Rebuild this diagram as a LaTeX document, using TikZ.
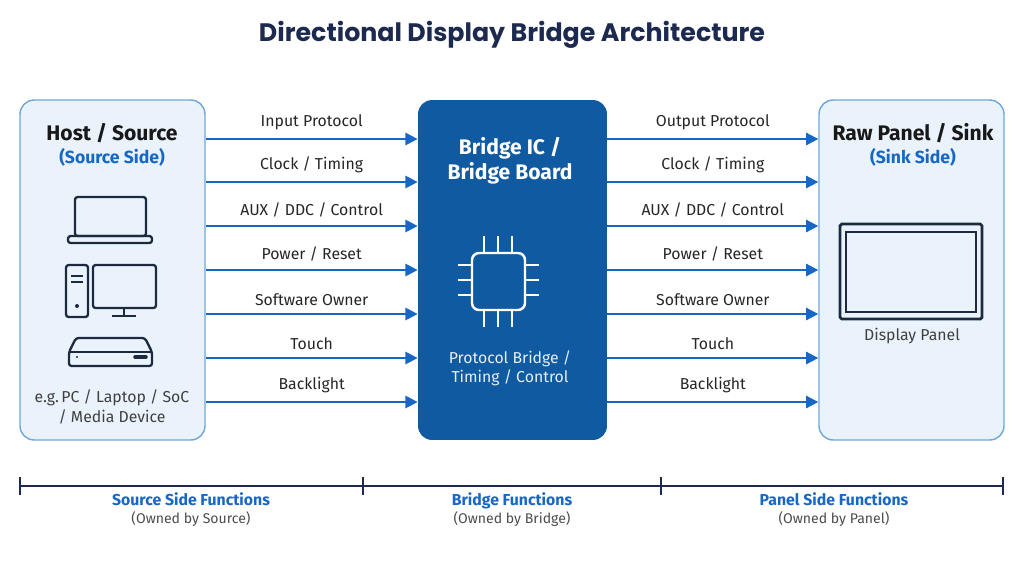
\documentclass[tikz,border=0pt]{standalone}
\usepackage{fontspec}
\setmainfont{Fira Sans}
\newfontfamily\titlefont{Poppins}
\usetikzlibrary{positioning,arrows.meta}
\definecolor{navy}{HTML}{1B2A4E}
\definecolor{linkblue}{HTML}{1767C4}
\definecolor{boxfill}{HTML}{EAF3FC}
\definecolor{boxline}{HTML}{6FA6DA}
\definecolor{chipblue}{HTML}{0F5AA0}
\definecolor{icon}{HTML}{1B2A3E}
\tikzset{
  side/.style={draw=boxline, fill=boxfill, rounded corners=8pt, line width=0.8pt,
    minimum width=3.7cm, minimum height=6.8cm},
  core/.style={fill=chipblue, rounded corners=8pt, minimum width=3.78cm, minimum height=6.8cm},
  sig/.style={draw=linkblue, line width=1.2pt, -{Triangle[length=7pt,width=7pt]}},
  lbl/.style={font=\small, text=black!85, above, yshift=1pt},
  ico/.style={draw=icon, line width=1.3pt, rounded corners=1.5pt},
  chip/.style={draw=white, line width=1.4pt}
}
\begin{document}
\begin{tikzpicture}[x=0.02cm,y=-0.02cm]
  \useasboundingbox (0,0) rectangle (1024,576);
  \node[font=\titlefont\Large\bfseries, text=navy] (title) at (512,35) {Directional Display Bridge Architecture};

  \node[side] (src) at (112.5,270) {};
  \node[core] (brg) at (512.5,270) {};
  \node[side] (snk) at (911.5,270) {};

  \node[font=\large\bfseries, text=black!90] (srct) at (112,133) {Host / Source};
  \node[font=\normalsize\bfseries, text=linkblue] (srcs) at (112,157) {(Source Side)};
  \node[font=\large\bfseries, text=white, align=center] (brgt) at (510,161) {Bridge IC /\\Bridge Board};
  \node[font=\large\bfseries, text=black!90] (snkt) at (913,133) {Raw Panel / Sink};
  \node[font=\normalsize\bfseries, text=linkblue] (snks) at (913,157) {(Sink Side)};

  % signal lines
  \foreach \y/\t/\u in {139/{Input Protocol}/{Output Protocol}, 182/{Clock / Timing}/{Clock / Timing},
      226/{AUX / DDC / Control}/{AUX / DDC / Control}, 270/{Power / Reset}/{Power / Reset},
      314/{Software Owner}/{Software Owner}, 358/{Touch}/{Touch}, 402/{Backlight}/{Backlight}} {
    \draw[sig] (src.east |- 0,\y) -- node[lbl]{\t} (brg.west |- 0,\y);
    \draw[sig] (brg.east |- 0,\y) -- node[lbl]{\u} (snk.west |- 0,\y);
  }

  % host icons
  \draw[ico] (75,236) rectangle (146,197);
  \draw[ico] (68,236) rectangle (152,243);
  \draw[ico] (66,265) rectangle (88,317);
  \draw[icon, line width=1.3pt] (71,276) -- (83,276) (71,282) -- (83,282);
  \fill[icon] (77,306) circle (2);
  \draw[ico] (93,265) rectangle (156,308);
  \draw[icon, line width=1.3pt] (124,308) -- (124,316) (112,316) -- (136,316);
  \draw[ico] (69,366) -- (69,352) -- (76,338) -- (145,338) -- (152,352) -- (152,366) -- cycle;
  \draw[icon, line width=1.3pt] (69,352) -- (152,352);
  \fill[icon] (77,357) circle (1.2);
  \draw[icon, line width=2pt, line cap=round] (135,357) -- (146,357);
  \node[font=\small, text=black!75, align=center] (srcx) at (112,407) {e.g.\,PC / Laptop / SoC\\/ Media Device};

  % chip icon
  \draw[chip, rounded corners=4pt] (472,253) rectangle (525,310);
  \foreach \p in {484,498,512} {
    \draw[chip] (\p,236) -- (\p,253) (\p,310) -- (\p,327);
  }
  \foreach \p in {265,280,295} {
    \draw[chip] (458,\p) -- (472,\p) (525,\p) -- (539,\p);
  }
  \node[font=\small, text=white!90!chipblue, align=center] (brgx) at (510,368) {Protocol Bridge /\\Timing / Control};

  % panel icon
  \draw[ico, line width=1.6pt, rounded corners=1pt] (840,224) rectangle (982,319);
  \draw[ico, line width=1.6pt, rounded corners=0pt] (846,232) rectangle (976,312);
  \node[font=\small, text=black!75] (snkx) at (912,336) {Display Panel};

  % ownership scale
  \coordinate (t0) at (20,486);
  \coordinate (t1) at (363,486);
  \coordinate (t2) at (661,486);
  \coordinate (t3) at (1003,486);
  \draw[navy, line width=1pt] (t0) -- (t3);
  \foreach \c in {t0,t1,t2,t3} \draw[navy, line width=1.2pt] ([yshift=5pt]\c) -- ([yshift=-5pt]\c);
  \foreach \x/\a/\b in {191/Source Side Functions/Source, 512/Bridge Functions/Bridge, 834/Panel Side Functions/Panel} {
    \node[font=\small\bfseries, text=linkblue, anchor=base] (f\b) at (\x,505) {\a};
    \node[font=\footnotesize, text=black!70, anchor=base] at (\x,523) {(Owned by \b)};
  }
\end{tikzpicture}
\end{document}
